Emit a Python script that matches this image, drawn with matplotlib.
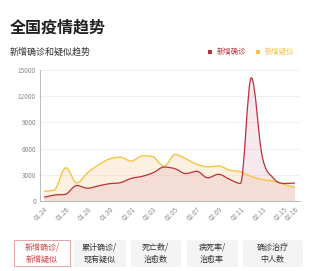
import matplotlib.pyplot as plt
import numpy as np
from matplotlib.path import Path
from matplotlib.patches import PathPatch, Rectangle

plt.rcParams['font.family'] = ['Noto Sans CJK SC', 'DejaVu Sans']

dates = ["01.24", "01.25", "01.26", "01.27", "01.28", "01.29", "01.30", "01.31",
         "02.01", "02.02", "02.03", "02.04", "02.05", "02.06", "02.07", "02.08",
         "02.09", "02.10", "02.11", "02.12", "02.13", "02.14", "02.15", "02.16"]
confirmed = [444, 688, 769, 1771, 1459, 1737, 1982, 2102, 2590, 2829, 3235, 3887,
             3694, 3143, 3399, 2656, 3062, 2478, 2015, 14108, 5090, 2641, 2009, 2048]
suspected = [1118, 1309, 3806, 2077, 3248, 4148, 4812, 5019, 4562, 5173, 5072, 3971,
             5328, 4833, 4214, 3916, 4008, 3536, 3342, 2807, 2450, 2277, 1918, 1563]
tick_labels = ["01.24", "01.26", "01.28", "01.30", "02.01", "02.03", "02.05",
               "02.07", "02.09", "02.11", "02.13", "02.15", "02.16"]
buttons = ["新增确诊/\n新增疑似", "累计确诊/\n现有疑似", "死亡数/\n治愈数",
           "病死率/\n治愈率", "确诊治疗\n中人数"]

RED = '#b8333a'
YELLOW = '#f5c445'


def smooth_path(xs, ys, closed_base=None, k=0.35):
    # cubic bezier through every point, control points clamped so no overshoot
    xs = np.asarray(xs, float)
    ys = np.asarray(ys, float)
    n = len(xs)
    verts = [(xs[0], ys[0])]
    codes = [Path.MOVETO]
    for i in range(n - 1):
        p0 = i - 1 if i > 0 else i
        p3 = i + 2 if i + 2 < n else i + 1
        lo, hi = min(ys[i], ys[i + 1]), max(ys[i], ys[i + 1])
        c1y = np.clip(ys[i] + k * (ys[i + 1] - ys[p0]) / 2, lo, hi)
        c2y = np.clip(ys[i + 1] - k * (ys[p3] - ys[i]) / 2, lo, hi)
        if i > 0 and (ys[i] - ys[i - 1]) * (ys[i + 1] - ys[i]) <= 0:
            c1y = ys[i]
        if i + 2 < n and (ys[i + 1] - ys[i]) * (ys[i + 2] - ys[i + 1]) <= 0:
            c2y = ys[i + 1]
        c1 = (xs[i] + k * (xs[i + 1] - xs[i]), c1y)
        c2 = (xs[i + 1] - k * (xs[i + 1] - xs[i]), c2y)
        verts += [c1, c2, (xs[i + 1], ys[i + 1])]
        codes += [Path.CURVE4] * 3
    if closed_base is not None:
        verts += [(xs[-1], closed_base), (xs[0], closed_base), (xs[0], ys[0])]
        codes += [Path.LINETO, Path.LINETO, Path.CLOSEPOLY]
    return Path(verts, codes)


W, H = 318, 271
fig = plt.figure(figsize=(W / 100, H / 100), dpi=100)
ax = fig.add_axes([40 / W, 70 / H, 260 / W, 131 / H])

x = np.arange(len(dates))
ax.add_patch(PathPatch(smooth_path(x, suspected, 0), facecolor='#f7c98a', alpha=0.25, lw=0))
ax.add_patch(PathPatch(smooth_path(x, confirmed, 0), facecolor='#d68fa8', alpha=0.2, lw=0))
ax.add_patch(PathPatch(smooth_path(x, suspected), facecolor='none', edgecolor=YELLOW, lw=1))
ax.add_patch(PathPatch(smooth_path(x, confirmed), facecolor='none', edgecolor=RED, lw=0.9))

ax.set_xlim(-0.37, 23.46)
ax.set_ylim(0, 15000)
ax.set_yticks([0, 3000, 6000, 9000, 12000, 15000])
ax.yaxis.grid(True, color='#eeeeee', lw=0.6)
ax.set_axisbelow(True)
ax.set_xticks([dates.index(d) for d in tick_labels])
ax.set_xticklabels(tick_labels, rotation=45, ha='right', rotation_mode='anchor')
ax.tick_params(axis='both', labelsize=4.6, colors='#888888', length=0, pad=3)
for s in ['top', 'right']:
    ax.spines[s].set_visible(False)
for s in ['left', 'bottom']:
    ax.spines[s].set_color('#bbbbbb')
    ax.spines[s].set_linewidth(0.7)

fig.text(10 / W, 1 - 28 / H, "全国疫情趋势", fontsize=11.5, color='#222222', va='center',
         fontweight='bold')
fig.text(10 / W, 1 - 52 / H, "新增确诊和疑似趋势", fontsize=6.5, color='#333333', va='center')
fig.add_artist(Rectangle((208 / W, 1 - 54 / H), 4 / W, 4 / H, transform=fig.transFigure,
                         facecolor=RED, lw=0))
fig.text(217 / W, 1 - 52 / H, "新增确诊", fontsize=5.3, color=RED, va='center')
fig.add_artist(Rectangle((256 / W, 1 - 54 / H), 4 / W, 4 / H, transform=fig.transFigure,
                         facecolor=YELLOW, lw=0))
fig.text(265 / W, 1 - 52 / H, "新增疑似", fontsize=5.3, color=YELLOW, va='center')

boxes = [(14, 70), (74, 125), (131, 180), (187, 237), (243, 302)]
for i, (b, (x0, x1)) in enumerate(zip(buttons, boxes)):
    if i == 0:
        fc, ec, tc = 'white', '#e6a5a5', '#d04545'
    else:
        fc, ec, tc = '#f4f4f4', '#f4f4f4', '#333333'
    fig.add_artist(Rectangle((x0 / W, 1 - 266 / H), (x1 - x0) / W, 26 / H,
                             transform=fig.transFigure, facecolor=fc, edgecolor=ec, lw=0.7))
    fig.text((x0 + x1) / 2 / W, 1 - 253.5 / H, b, fontsize=5.8, color=tc,
             ha='center', va='center', linespacing=1.45)

fig.savefig('out.png', dpi=100)
